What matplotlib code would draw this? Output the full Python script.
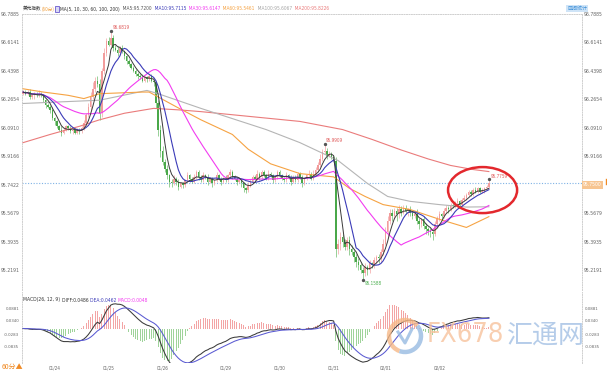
import numpy as np
import pandas as pd
import matplotlib
matplotlib.use("Agg")
import matplotlib.pyplot as plt
from matplotlib import font_manager
from matplotlib.font_manager import FontProperties
from matplotlib.patches import Ellipse, Rectangle, Arc

# ---------------- data: US dollar index, 60-minute bars ----------------
first_open = 96.30
close = [
    96.31, 96.30, 96.31, 96.28, 96.29, 96.30, 96.29, 96.30, 96.29, 96.26, 96.23, 96.22,
    96.20, 96.15, 96.13, 96.10, 96.08, 96.06, 96.08, 96.10, 96.09, 96.07, 96.08, 96.06,
    96.08, 96.07, 96.09, 96.12, 96.17, 96.22, 96.28, 96.33, 96.38, 96.36, 96.18, 96.44,
    96.55, 96.62, 96.60, 96.64, 96.58, 96.57, 96.55, 96.58, 96.56, 96.53, 96.50, 96.48,
    96.46, 96.44, 96.42, 96.41, 96.40, 96.38, 96.40, 96.39, 96.41, 96.38, 96.37, 96.24,
    96.08, 95.95, 95.88, 95.84, 95.80, 95.76, 95.75, 95.78, 95.76, 95.73, 95.75, 95.74,
    95.77, 95.80, 95.78, 95.76, 95.79, 95.82, 95.79, 95.77, 95.80, 95.79, 95.76, 95.78,
    95.75, 95.77, 95.80, 95.78, 95.76, 95.78, 95.77, 95.80, 95.82, 95.79, 95.78, 95.76,
    95.77, 95.75, 95.72, 95.71, 95.74, 95.76, 95.79, 95.78, 95.81, 95.79, 95.82, 95.80,
    95.78, 95.81, 95.80, 95.77, 95.79, 95.82, 95.80, 95.78, 95.77, 95.80, 95.79, 95.76,
    95.79, 95.77, 95.81, 95.79, 95.75, 95.78, 95.80, 95.81, 95.78, 95.81, 95.83, 95.86,
    95.90, 95.94, 95.95, 95.92, 95.93, 95.91, 95.89, 95.35, 95.38, 95.42, 95.39, 95.36,
    95.40, 95.35, 95.33, 95.30, 95.27, 95.25, 95.22, 95.20, 95.24, 95.22, 95.26, 95.25,
    95.28, 95.30, 95.29, 95.33, 95.38, 95.45, 95.52, 95.57, 95.55, 95.58, 95.56, 95.59,
    95.57, 95.60, 95.58, 95.59, 95.57, 95.55, 95.56, 95.52, 95.50, 95.53, 95.49, 95.47,
    95.456, 95.45, 95.44, 95.50, 95.53, 95.56, 95.55, 95.58, 95.60, 95.59, 95.62, 95.61,
    95.63, 95.64, 95.62, 95.65, 95.66, 95.68, 95.70, 95.685, 95.71, 95.70, 95.72, 95.70,
    95.70, 95.72, 95.73, 95.75,
]
# upper / lower shadows beyond the candle body, in hundredths
wick_hi = [
    1, 1, 1, 2, 1, 1, 1, 2, 1, 1, 1, 1,
    1, 2, 1, 1, 1, 2, 1, 1, 1, 1, 1, 1,
    1, 1, 1, 2, 1, 2, 3, 4, 2, 3, 3, 2,
    3, 2, 3, 4.19, 2, 2, 2, 1, 2, 1, 1, 1,
    1, 1, 1, 1, 1, 2, 1, 1, 1, 1, 1, 1,
    2, 3, 3, 2, 2, 1, 2, 2, 1, 2, 1, 1,
    1, 2, 1, 1, 2, 1, 1, 1, 2, 1, 2, 1,
    1, 1, 2, 1, 1, 1, 2, 1, 2, 1, 1, 1,
    1, 1, 1, 1, 2, 2, 1, 1, 2, 1, 1, 1,
    1, 2, 1, 1, 1, 1, 1, 1, 1, 2, 1, 1,
    1, 1, 1, 1, 1, 1, 1, 2, 1, 2, 2, 2,
    3, 2, 4.09, 2, 2, 1, 1, 2, 3, 3, 2, 2,
    2, 3, 2, 1, 2, 2, 1, 2, 2, 1, 2, 1,
    2, 1, 2, 2, 3, 3, 3, 2, 2, 2, 2, 3,
    2, 2, 2, 1, 2, 1, 2, 3, 2, 1, 2, 2,
    1, 2, 2, 2, 2, 2, 1, 2, 2, 1, 1, 2,
    1, 2, 1, 1, 2, 1, 1, 1, 1, 2, 1, 1,
    2, 1, 1, 2.59,
]
wick_lo = [
    1, 1, 1, 1, 1, 2, 1, 1, 1, 1, 2, 1,
    2, 1, 2, 1, 1, 2, 1, 1, 1, 1, 2, 1,
    1, 2, 1, 1, 1, 1, 2, 1, 2, 2, 4, 2,
    2, 2, 1, 1, 2, 1, 2, 1, 1, 2, 2, 1,
    1, 1, 1, 2, 1, 1, 1, 2, 1, 1, 2, 3,
    4, 4, 2, 2, 2, 3, 2, 1, 2, 2, 1, 2,
    1, 1, 2, 1, 1, 1, 2, 1, 1, 1, 2, 1,
    2, 1, 1, 1, 2, 1, 1, 1, 1, 1, 1, 2,
    1, 2, 2, 2, 1, 1, 1, 1, 1, 2, 1, 1,
    1, 1, 1, 2, 1, 1, 1, 1, 1, 1, 1, 2,
    1, 1, 1, 1, 2, 1, 1, 1, 1, 1, 1, 1,
    1, 1, 1, 2, 1, 1, 2, 5, 3, 4, 3, 2,
    2, 4, 2, 3, 3, 3, 2, 4.12, 2, 3, 2, 2,
    2, 2, 3, 2, 2, 1, 2, 2, 3, 2, 4, 2,
    2, 1, 2, 3, 2, 2, 1, 2, 3, 2, 2, 3,
    2, 3, 4, 1, 2, 1, 2, 1, 1, 2, 1, 1,
    1, 1, 2, 1, 1, 1, 1, 1, 1, 1, 1, 1,
    1, 1, 1, 1,
]

# long moving averages (values at selected bars)
ma60_idx = [0, 9, 20, 27, 34, 53, 56, 68, 79, 93, 100, 110, 123, 138, 145, 152, 160, 172, 185, 197, 207]
ma60_val = [96.33, 96.31, 96.29, 96.27, 96.30, 96.31, 96.31, 96.22, 96.14, 96.05, 95.96, 95.87,
            95.81, 95.79, 95.72, 95.67, 95.62, 95.59, 95.53, 95.48, 95.5461]
ma100_idx = [0, 34, 55, 60, 79, 108, 123, 140, 153, 162, 172, 185, 197, 207]
ma100_val = [96.24, 96.26, 96.32, 96.30, 96.21, 96.08, 96.00, 95.89, 95.75, 95.67, 95.64, 95.62,
             95.605, 95.6067]
ma200_idx = [0, 12, 25, 34, 45, 58, 70, 79, 101, 123, 142, 155, 168, 180, 190, 200, 207]
ma200_val = [96.00, 96.05, 96.10, 96.14, 96.18, 96.21, 96.20, 96.19, 96.16, 96.13, 96.08, 96.02,
             95.955, 95.90, 95.86, 95.835, 95.8226]

price_ticks = [96.7885, 96.6141, 96.4398, 96.2654, 96.0910, 95.9166, 95.7422, 95.5679, 95.3935, 95.2191]
macd_ticks = [0.0881, 0.0340, -0.0283, -0.0835]
date_labels = ["01/24", "01/25", "01/26", "01/29", "01/30", "01/31", "02/01", "02/02"]
date_idx = [14, 38, 62, 90, 114, 138, 161, 185]

# ---------------- derived series ----------------
c = np.array(close)
o = np.array([first_open] + close[:-1])
hi = np.maximum(o, c) + np.array(wick_hi) / 100.0
lo = np.minimum(o, c) - np.array(wick_lo) / 100.0
n = len(c)
idx = np.arange(n)
s = pd.Series(c)
ma5 = s.rolling(5, min_periods=1).mean().values
ma10 = s.rolling(10, min_periods=1).mean().values
ma30 = s.rolling(30, min_periods=1).mean().values
ema12 = s.ewm(span=12, adjust=False).mean()
ema26 = s.ewm(span=26, adjust=False).mean()
dif = (ema12 - ema26).values
dea = pd.Series(dif).ewm(span=9, adjust=False).mean().values
hist = 2 * (dif - dea)

# ---------------- figure / fonts ----------------
W, H, DPI = 607, 375, 100
fig = plt.figure(figsize=(W / DPI, H / DPI), dpi=DPI)
fig.patch.set_facecolor("white")
renderer = fig.canvas.get_renderer()


def measure(txt, fprop):
    t = fig.text(0, 0, txt, fontproperties=fprop)
    w = t.get_window_extent(renderer).width
    t.remove()
    return w


# a narrow sans face for the small scale text
NARROW_PATH = None
for f in font_manager.fontManager.ttflist:
    if f.name == "Liberation Sans Narrow" and f.style == "normal" and str(f.weight) in ("400", "normal", "regular"):
        NARROW_PATH = f.fname
        break
if NARROW_PATH is None:
    for f in font_manager.fontManager.ttflist:
        if f.fname.endswith("DejaVuSansCondensed.ttf"):
            NARROW_PATH = f.fname
            break
if NARROW_PATH is None:
    NARROW_PATH = font_manager.findfont("DejaVu Sans")


def fp(size):
    return FontProperties(fname=NARROW_PATH, size=size)


def fit(txt, target, cap=None):
    size = 10.0 * target / measure(txt, fp(10))
    return min(size, cap) if cap else size


TICK_FS = fit("96.7885", 19, 5.2)
NOTE_FS = fit("96.6819", 17, 5.0)
DATE_FS = fit("01/24", 12, 5.0)
MTICK_FS = fit("0.0881", 14, 5.0)

PX_PER_BAR = 2.25
X0, X1 = 22, 582
xlim = (-0.5, -0.5 + (X1 - X0) / PX_PER_BAR)
y_top_px, y_bot_px = 14, 290
ppu = (270 - 14) / (price_ticks[0] - price_ticks[-1])
ylim_main = (price_ticks[-1] - (y_bot_px - 270) / ppu, price_ticks[0])

ax = fig.add_axes([X0 / W, 1 - y_bot_px / H, (X1 - X0) / W, (y_bot_px - y_top_px) / H])
ax.set_xlim(*xlim)
ax.set_ylim(*ylim_main)

UP, DOWN = "#f29c9c", "#4aa84a"
UPW, DOWNW = "#f5b3b3", "#86c786"
up = c >= o
ax.vlines(idx[up], lo[up], hi[up], color=UPW, lw=0.6, zorder=2)
ax.vlines(idx[~up], lo[~up], hi[~up], color=DOWNW, lw=0.6, zorder=2)
body = np.maximum(np.abs(c - o), 0.004)
ax.bar(idx[up], body[up], bottom=np.minimum(o, c)[up], width=0.65, color=UP, lw=0, zorder=3)
ax.bar(idx[~up], body[~up], bottom=np.minimum(o, c)[~up], width=0.65, color=DOWN, lw=0, zorder=3)

C_MA5, C_MA10, C_MA30 = "#3a3a3a", "#3b3bb8", "#f23cf0"
C_MA60, C_MA100, C_MA200 = "#f6a343", "#b5b5b5", "#ea7b7b"
ax.plot(ma200_idx, ma200_val, color=C_MA200, lw=0.8, zorder=4)
ax.plot(ma100_idx, ma100_val, color=C_MA100, lw=0.8, zorder=4)
ax.plot(ma60_idx, ma60_val, color=C_MA60, lw=0.8, zorder=4)
ax.plot(idx, ma30, color=C_MA30, lw=0.8, zorder=5)
ax.plot(idx, ma10, color=C_MA10, lw=0.8, zorder=5)
ax.plot(idx, ma5, color=C_MA5, lw=0.7, zorder=5)

# last-price guide
ax.axhline(c[-1], color="#7fb2e5", lw=0.8, ls=(0, (1, 1.5)), zorder=1)


# high / low notes
def note(i, v, color, dy):
    ax.plot([i], [v], marker="o", ms=1.4, color="#555555", zorder=6)
    ax.annotate(f"{v:.4f}", (i, v), xytext=(1.5, dy), textcoords="offset pixels",
                fontproperties=fp(NOTE_FS), color=color, va="center", ha="left", zorder=7)


i_top = int(np.argmax(hi))
note(i_top, hi[i_top], "#e05a5a", 4)
i_mid = 120 + int(np.argmax(hi[120:160]))
note(i_mid, hi[i_mid], "#e05a5a", 4)
i_low = int(np.argmin(lo))
note(i_low, lo[i_low], "#4caf50", -4)
note(n - 1, hi[-1], "#e05a5a", 3)

ell = Ellipse((204.2, 95.709), width=30.7, height=0.282, fill=False, ec="#e3282d", lw=1.8, zorder=8)
ax.add_patch(ell)

for side in ("left", "right", "top"):
    ax.spines[side].set_color("#cfcfcf")
    ax.spines[side].set_linestyle((0, (1, 1.5)))
    ax.spines[side].set_linewidth(0.7)
ax.spines["bottom"].set_visible(False)
ax.set_xticks([])
ax.set_yticks(price_ticks)
ax.set_yticklabels([f"{t:.4f}" for t in price_ticks])
ax.tick_params(axis="y", length=0, labelcolor="#666666", labelleft=True, labelright=True, pad=1.5)
for t in ax.yaxis.get_major_ticks():
    t.label1.set_fontproperties(fp(TICK_FS))
    t.label2.set_fontproperties(fp(TICK_FS))

# ---------------- MACD panel ----------------
m_top, m_bot = 292, 363
mppu = (347 - 309) / (macd_ticks[0] - macd_ticks[-1])
mx = fig.add_axes([X0 / W, 1 - m_bot / H, (X1 - X0) / W, (m_bot - m_top) / H])
mx.set_xlim(*xlim)
mx.set_ylim(macd_ticks[-1] - (m_bot - 347) / mppu, macd_ticks[0] + (309 - m_top) / mppu)
pos = hist >= 0
mx.bar(idx[pos], hist[pos], width=0.45, color="#f3a5a5", lw=0, zorder=2)
mx.bar(idx[~pos], hist[~pos], width=0.45, color="#9fd39a", lw=0, zorder=2)
mx.plot(idx, dif, color="#3a3a3a", lw=0.75, zorder=4)
mx.plot(idx, dea, color="#5a5ad2", lw=0.75, zorder=4)
for side in ("left", "right"):
    mx.spines[side].set_color("#cfcfcf")
    mx.spines[side].set_linestyle((0, (1, 1.5)))
    mx.spines[side].set_linewidth(0.7)
mx.spines["top"].set_visible(False)
mx.spines["bottom"].set_visible(False)
mx.set_yticks(macd_ticks)
mx.set_yticklabels([f"{t:.4f}" for t in macd_ticks])
mx.tick_params(axis="y", length=0, labelcolor="#666666", labelleft=True, labelright=True, pad=2)
for t in mx.yaxis.get_major_ticks():
    t.label1.set_fontproperties(fp(MTICK_FS))
    t.label2.set_fontproperties(fp(MTICK_FS))
mx.set_xticks(date_idx)
mx.set_xticklabels(date_labels)
mx.tick_params(axis="x", length=0, labelcolor="#666666", pad=1.5)
for t in mx.xaxis.get_major_ticks():
    t.label1.set_fontproperties(fp(DATE_FS))

# ---------------- overlay in pixel coordinates ----------------
ov = fig.add_axes([0, 0, 1, 1])
ov.set_xlim(0, W)
ov.set_ylim(H, 0)
ov.axis("off")
ov.patch.set_alpha(0)
ov.set_zorder(10)
CJK = ["Noto Sans CJK SC", "DejaVu Sans"]


def run_text(x, y, pieces, size):
    for txt, col, cjk in pieces:
        if txt is None:
            ov.add_patch(Rectangle((x + 0.5, y - 3), 4, 6, fc="#d8d8f4", ec="#6a5acd", lw=0.6))
            x += 6
            continue
        if cjk:
            t = ov.text(x, y, txt, fontsize=size * 0.95, family=CJK, color=col, va="center", ha="left")
        else:
            t = ov.text(x, y, txt, fontproperties=fp(size), color=col, va="center", ha="left")
        x += t.get_window_extent(renderer).width
    return x


ascii_head = [
    ("MA(5, 10, 30, 60, 100, 200)", "#333333", False),
    (f"  MA5:{ma5[-1]:.4f}", "#555555", False),
    (f"  MA10:{ma10[-1]:.4f}", C_MA10, False),
    (f"  MA30:{ma30[-1]:.4f}", C_MA30, False),
    (f"  MA60:{ma60_val[-1]:.4f}", C_MA60, False),
    (f"  MA100:{ma100_val[-1]:.4f}", "#a5a5a5", False),
    (f"  MA200:{ma200_val[-1]:.4f}", C_MA200, False),
]
HEAD_FS = fit("".join(p[0] for p in ascii_head), 272, 5.2)
header = [("美元指数", "#333333", True), ("(60分)", "#f0a040", True), (None, None, False)] + ascii_head
run_text(23, 9, header, HEAD_FS)

macd_title = [
    ("MACD(26, 12, 9) ", "#333333", False),
    (f"DIFF:{dif[-1]:.4f} ", "#333333", False),
    (f"DEA:{dea[-1]:.4f} ", "#3b3bb8", False),
    (f"MACD:{hist[-1]:.4f}", "#f23cf0", False),
]
MT_FS = fit("".join(p[0] for p in macd_title), 124, 5.2)
run_text(23, 300, macd_title, MT_FS)

# last price tag on the right scale
ov.text(583, 185, f"{c[-1]:.4f}", fontproperties=fp(TICK_FS), color="white", va="center", ha="left",
        bbox=dict(boxstyle="square,pad=0.25", fc="#f7c591", ec="none"))
ov.plot([605.5, 605.5], [179, 184], color="#f08a24", lw=1)

# small toolbar tag top-right
ov.text(567, 8.5, "区间统计", fontsize=3.6, family=CJK, color="#3d8fd8", va="center", ha="left",
        bbox=dict(boxstyle="square,pad=0.25", fc="#cfe4f7", ec="none"))

# period tag bottom-left
ov.text(2, 367, "60分▲", fontsize=5.0, family=CJK, color="#f08a24", va="center", ha="left")

# watermark
ov.add_patch(Arc((405, 336), 32, 32, theta1=110, theta2=320, color="#f6b887", lw=3.2, alpha=0.8))
ov.add_patch(Arc((405, 336), 32, 32, theta1=320, theta2=470, color="#98bbe2", lw=3.2, alpha=0.8))
ov.plot([398, 405, 412], [332, 343, 329], color="#98bbe2", lw=2.2, alpha=0.8)
WM_FS = fit("FX678", 77)
ov.text(427, 335, "FX678", fontproperties=fp(WM_FS), color="#f7c29c", va="center", ha="left", alpha=0.8)
CJ_FS = 10.0 * 78 / measure("汇通网", FontProperties(family="Noto Sans CJK SC", size=10))
ov.text(507, 335, "汇通网", fontsize=CJ_FS, family=["Noto Sans CJK SC"], color="#a3c0e4",
        va="center", ha="left", alpha=0.8)

fig.savefig("out.png", dpi=DPI, facecolor="white")
